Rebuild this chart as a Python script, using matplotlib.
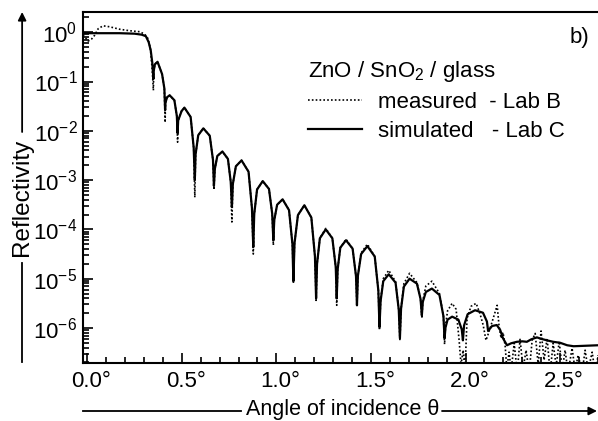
import numpy as np
import matplotlib
matplotlib.use("Agg")
import matplotlib.pyplot as plt
from matplotlib.ticker import MultipleLocator, LogLocator, NullFormatter, FixedLocator
from matplotlib.transforms import ScaledTranslation

plt.rcParams['font.family'] = ['Liberation Sans', 'DejaVu Sans']
plt.rcParams['mathtext.fontset'] = 'custom'
plt.rcParams['mathtext.rm'] = 'Liberation Sans'
plt.rcParams['mathtext.default'] = 'regular'

# angle (deg) and log10(reflectivity)
sim_angle = [-0.022, 0.066, 0.172, 0.251, 0.288, 0.310, 0.325, 0.336, 0.344,
             0.350, 0.352, 0.358, 0.372, 0.396, 0.408,
             0.412, 0.414, 0.422, 0.436, 0.461, 0.474,
             0.478, 0.481, 0.499, 0.514, 0.547, 0.563,
             0.569, 0.573, 0.587, 0.614, 0.648, 0.665,
             0.670, 0.675, 0.688, 0.715, 0.744, 0.759,
             0.765, 0.770, 0.786, 0.816, 0.853, 0.871,
             0.878, 0.883, 0.898, 0.928, 0.961, 0.978,
             0.984, 0.989, 1.004, 1.033, 1.067, 1.085,
             1.090, 1.096, 1.114, 1.148, 1.185, 1.204,
             1.210, 1.215, 1.230, 1.261, 1.296, 1.314,
             1.319, 1.324, 1.338, 1.368, 1.403, 1.421,
             1.426, 1.431, 1.448, 1.481, 1.520, 1.539,
             1.545, 1.551, 1.565, 1.594, 1.630, 1.647,
             1.653, 1.659, 1.674, 1.704, 1.743, 1.762,
             1.769, 1.774, 1.790, 1.822, 1.862, 1.883,
             1.889, 1.894, 1.905, 1.929, 1.962, 1.980,
             1.986, 1.992, 2.011, 2.050, 2.092, 2.113,
             2.119, 2.140, 2.165, 2.183, 2.198, 2.219, 2.241, 2.271, 2.299,
             2.324, 2.347, 2.377, 2.400, 2.430, 2.463, 2.500, 2.537, 2.571,
             2.632, 2.701]
sim_logR = [-0.02, -0.02, -0.02, -0.03, -0.05, -0.08, -0.20, -0.37, -0.61,
            -0.95, -0.78, -0.65, -0.60, -0.85, -1.14,
            -1.58, -1.43, -1.32, -1.28, -1.38, -1.70,
            -2.05, -1.79, -1.60, -1.53, -1.72, -2.34,
            -3.00, -2.48, -2.09, -1.95, -2.10, -2.59,
            -3.12, -2.77, -2.51, -2.42, -2.57, -3.04,
            -3.55, -3.08, -2.72, -2.60, -2.83, -3.57,
            -4.36, -3.69, -3.19, -3.02, -3.18, -3.68,
            -4.22, -3.81, -3.50, -3.39, -3.61, -4.30,
            -5.05, -4.28, -3.71, -3.51, -3.76, -4.55,
            -5.40, -4.70, -4.18, -4.00, -4.18, -4.77,
            -5.40, -4.81, -4.37, -4.22, -4.39, -4.95,
            -5.54, -4.94, -4.50, -4.34, -4.55, -5.24,
            -5.98, -5.45, -5.05, -4.91, -5.08, -5.63,
            -6.21, -5.61, -5.16, -5.00, -5.10, -5.41,
            -5.74, -5.47, -5.27, -5.20, -5.33, -5.76,
            -6.21, -5.99, -5.83, -5.77, -5.83, -6.03,
            -6.25, -5.95, -5.72, -5.64, -5.69, -5.87,
            -6.06, -5.96, -5.94, -6.04, -6.21, -6.35, -6.31, -6.28, -6.27,
            -6.28, -6.23, -6.19, -6.22, -6.25, -6.28, -6.30, -6.35, -6.37,
            -6.36, -6.35]

meas_angle = [-0.022, -0.008, 0.005, 0.023, 0.040, 0.058, 0.084, 0.119, 0.172,
              0.225, 0.278, 0.304, 0.320, 0.334, 0.344,
              0.350, 0.352, 0.358, 0.372, 0.396, 0.408,
              0.412, 0.414, 0.422, 0.436, 0.461, 0.474,
              0.478, 0.481, 0.499, 0.514, 0.547, 0.563,
              0.569, 0.573, 0.587, 0.614, 0.648, 0.665,
              0.670, 0.675, 0.688, 0.715, 0.744, 0.759,
              0.765, 0.770, 0.786, 0.816, 0.853, 0.871,
              0.878, 0.883, 0.898, 0.928, 0.961, 0.978,
              0.984, 0.989, 1.004, 1.033, 1.067, 1.085,
              1.090, 1.096, 1.114, 1.148, 1.185, 1.204,
              1.210, 1.215, 1.230, 1.261, 1.296, 1.314,
              1.319, 1.324, 1.338, 1.368, 1.403, 1.421,
              1.426, 1.431, 1.448, 1.481, 1.520, 1.539,
              1.545, 1.551, 1.565, 1.594, 1.630, 1.647,
              1.653, 1.659, 1.674, 1.704, 1.743, 1.762,
              1.769, 1.774, 1.790, 1.822, 1.862, 1.883,
              1.889, 1.894, 1.905, 1.929, 1.950, 1.966, 1.976, 1.987, 1.997,
              2.008, 2.029, 2.056, 2.077, 2.093, 2.108, 2.119, 2.140, 2.156,
              2.167, 2.177, 2.188, 2.198, 2.209, 2.218, 2.230, 2.241, 2.257,
              2.273, 2.288, 2.304, 2.320, 2.336, 2.352, 2.368, 2.384, 2.399,
              2.415, 2.431, 2.447, 2.463, 2.479, 2.495, 2.511, 2.526, 2.542,
              2.563, 2.579, 2.595, 2.616, 2.632, 2.648, 2.669, 2.685, 2.701]
meas_logR = [-0.06, -0.12, -0.18, -0.14, -0.06, 0.07, 0.13, 0.11, 0.06,
             0.03, 0.01, -0.04, -0.12, -0.32, -0.77,
             -1.18, -0.78, -0.65, -0.60, -0.85, -1.14,
             -1.83, -1.43, -1.32, -1.28, -1.38, -1.70,
             -2.23, -1.79, -1.60, -1.53, -1.72, -2.34,
             -3.35, -2.48, -2.09, -1.95, -2.10, -2.59,
             -3.20, -2.77, -2.51, -2.42, -2.57, -3.04,
             -3.85, -3.08, -2.72, -2.60, -2.83, -3.57,
             -4.50, -3.69, -3.19, -3.02, -3.18, -3.68,
             -4.32, -3.81, -3.50, -3.39, -3.61, -4.30,
             -5.09, -4.28, -3.71, -3.51, -3.76, -4.55,
             -5.44, -4.70, -4.18, -3.98, -4.18, -4.77,
             -5.54, -4.81, -4.37, -4.20, -4.39, -4.95,
             -5.56, -4.94, -4.48, -4.30, -4.55, -5.24,
             -6.04, -5.45, -5.00, -4.83, -5.06, -5.63,
             -6.25, -5.61, -5.10, -4.89, -5.08, -5.41,
             -5.80, -5.45, -5.15, -5.05, -5.30, -5.76,
             -6.33, -5.95, -5.65, -5.50, -5.62, -6.25, -6.75, -6.45, -6.86,
             -5.80, -5.56, -5.50, -5.72, -5.94, -6.25, -6.13, -5.88, -5.68,
             -5.54, -5.96, -6.21, -6.09, -6.35, -6.82, -6.49, -6.86, -6.31,
             -6.90, -6.23, -6.82, -6.45, -6.90, -6.25, -6.11, -6.75, -6.06,
             -6.65, -6.21, -6.90, -6.31, -6.77, -6.27, -6.86, -6.45, -6.90,
             -6.41, -6.86, -6.55, -6.90, -6.45, -6.86, -6.49, -6.90, -6.55]

x_ticks = [0.0, 0.5, 1.0, 1.5, 2.0, 2.5]
x_ticklabels = ['0.0°', '0.5°', '1.0°', '1.5°', '2.0°', '2.5°']
y_ticks = [1e0, 1e-1, 1e-2, 1e-3, 1e-4, 1e-5, 1e-6]
y_ticklabels = ['10$^{0}$', '10$^{-1}$', '10$^{-2}$', '10$^{-3}$',
                '10$^{-4}$', '10$^{-5}$', '10$^{-6}$']

sim_R = 10 ** np.array(sim_logR)
meas_R = 10 ** np.array(meas_logR)

fig = plt.figure(figsize=(5.98, 4.21), dpi=100)
ax = fig.add_axes([83 / 598, 58 / 421, 515 / 598, 351 / 421])

ax.plot(meas_angle, meas_R, color='black', lw=1.2, linestyle=(0, (1, 1.3)),
        label='measured  - Lab B')
ax.plot(sim_angle, sim_R, color='black', lw=1.6, label='simulated   - Lab C',
        solid_joinstyle='round')

ax.set_yscale('log')
ax.set_xlim(-0.022, 2.70)
ax.set_ylim(10 ** -6.71, 10 ** 0.41)

ax.set_xticks(x_ticks)
ax.set_xticklabels(x_ticklabels)
ax.xaxis.set_minor_locator(MultipleLocator(0.1))
ax.yaxis.set_major_locator(FixedLocator(y_ticks))
ax.set_yticklabels(y_ticklabels)
ax.yaxis.set_minor_locator(LogLocator(base=10, subs=np.arange(2, 10), numticks=20))
ax.yaxis.set_minor_formatter(NullFormatter())

ax.tick_params(which='both', direction='in', labelsize=16, width=1.2,
               top=False, right=False)
ax.tick_params(which='major', length=7)
ax.tick_params(which='minor', length=4)
ax.tick_params(axis='x', pad=6)
ax.tick_params(axis='y', pad=4)

# number centred on the tick, degree sign hanging to the right
shift = ScaledTranslation(4 / 100, 0, fig.dpi_scale_trans)
for lab in ax.get_xticklabels():
    lab.set_transform(lab.get_transform() + shift)

for s in ['left', 'top', 'bottom']:
    ax.spines[s].set_linewidth(1.5)
ax.spines['right'].set_visible(False)

leg = ax.legend(loc='upper left', bbox_to_anchor=(0.437, 0.865), frameon=False,
                title='ZnO / SnO$_2$ / glass', fontsize=16, title_fontsize=16,
                handlelength=2.45, handletextpad=0.72, labelspacing=0.35,
                borderpad=0, borderaxespad=0, alignment='left')

ax.text(0.984, 0.926, 'b)', transform=ax.transAxes, fontsize=16,
        ha='right', va='center')

# axis labels with arrows
fig.text(0.037, 1 - 197 / 421, 'Reflectivity', rotation=90, fontsize=17.5,
         ha='center', va='center')
fig.add_artist(plt.Line2D([0.037, 0.037], [1 - 362 / 421, 1 - 263 / 421],
                          color='black', lw=1.3))
ax.annotate('', xy=(0.037, 1 - 12 / 421), xytext=(0.037, 1 - 132 / 421),
            xycoords='figure fraction', textcoords='figure fraction',
            arrowprops=dict(arrowstyle='-|>', color='black', lw=1.3,
                            mutation_scale=12, shrinkA=0, shrinkB=0))

fig.text(0.573, 1 - 409 / 421, 'Angle of incidence θ', fontsize=15.5,
         ha='center', va='center')
fig.add_artist(plt.Line2D([83 / 598, 241 / 598], [1 - 411 / 421, 1 - 411 / 421],
                          color='black', lw=1.3))
ax.annotate('', xy=(597 / 598, 1 - 411 / 421), xytext=(442 / 598, 1 - 411 / 421),
            xycoords='figure fraction', textcoords='figure fraction',
            arrowprops=dict(arrowstyle='-|>', color='black', lw=1.3,
                            mutation_scale=12, shrinkA=0, shrinkB=0))

fig.savefig('out.png', dpi=100)
